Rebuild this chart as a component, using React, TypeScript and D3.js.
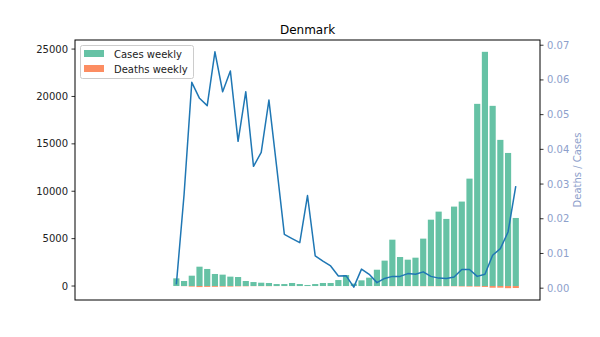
import React from "react";
import * as d3 from "d3";

const weeks: number[] = d3.range(55);
const casesWeekly: number[] = [
  0, 0, 0, 0, 0, 0, 0, 0, 0, 0,
  810, 530, 1090, 2040, 1800, 1270, 1200, 990, 950, 530,
  420, 350, 320, 210, 210, 320, 210, 110, 210, 320,
  320, 630, 1160, 250, 600, 880, 1720, 2680, 4890, 3060,
  2780, 2990, 5000, 7000, 7850, 7080, 8380, 8910, 11330, 19220,
  24710, 19010, 15420, 14040, 7180,
];
const deathsWeekly: number[] = [
  0, 0, 0, 0, 0, 0, 0, 0, 0, 0,
  1, 14, 65, 112, 94, 86, 68, 62, 40, 30,
  15, 14, 17, 7, 3, 5, 3, 3, 2, 2,
  2, 2, 4, 0, 3, 4, 3, 8, 17, 10,
  12, 12, 23, 24, 23, 20, 27, 48, 61, 65,
  99, 180, 176, 228, 211,
];
const ratio: (number | null)[] = [
  null, null, null, null, null, null, null, null, null, null,
  0.0011, 0.027, 0.0593, 0.0547, 0.0526, 0.0681, 0.0566, 0.0626, 0.0423, 0.0566,
  0.0351, 0.0391, 0.0542, 0.035, 0.0155, 0.0143, 0.0131, 0.0267, 0.0093, 0.0078,
  0.0064, 0.0035, 0.0036, 0.0003, 0.0055, 0.004, 0.0016, 0.0028, 0.0034, 0.0034,
  0.0042, 0.004, 0.0047, 0.0034, 0.0029, 0.0028, 0.0032, 0.0054, 0.0054, 0.0034,
  0.004, 0.0095, 0.0114, 0.0162, 0.0294,
];
const leftTicks: number[] = [0, 5000, 10000, 15000, 20000, 25000];
const rightTicks: number[] = [0, 0.01, 0.02, 0.03, 0.04, 0.05, 0.06, 0.07];

const W = 600, H = 337;
const L = 75, R = 540, T = 40, B = 300;
const GREEN = "#66c2a5", ORANGE = "#fc8d62", LINE = "#1f77b4", AX2 = "#8da0cb";
const FONT = "DejaVu Sans, sans-serif";

export default function App() {
  const bw = 0.8;
  const xlo = -bw / 2, xhi = weeks.length - 1 + bw / 2;
  const xm = 0.05 * (xhi - xlo);
  const x = d3.scaleLinear().domain([xlo - xm, xhi + xm]).range([L, R]);

  const ymax = d3.max(casesWeekly) as number;
  const ymin = -(d3.max(deathsWeekly) as number);
  const ym = 0.05 * (ymax - ymin);
  const y = d3.scaleLinear().domain([ymin - ym, ymax + ym]).range([B, T]);

  const rvals = ratio.filter((v) => v != null) as number[];
  const rmax = d3.max(rvals) as number, rmin = Math.min(0, d3.min(rvals) as number);
  const rm = 0.05 * (rmax - rmin);
  const y2 = d3.scaleLinear().domain([rmin - rm, rmax + rm]).range([B, T]);

  const pw = x(bw) - x(0);
  const line = d3
    .line<number | null>()
    .defined((d) => d != null)
    .x((_, i) => x(weeks[i]))
    .y((d) => y2(d as number));

  return (
    <svg width={W} height={H} style={{ position: "absolute", left: 0, top: 0 }} fontFamily={FONT}>
      <rect width={W} height={H} fill="white" />
      <text x={(L + R) / 2} y={34} textAnchor="middle" fontSize={12} fill="#000">Denmark</text>
      {weeks.map((w, i) =>
        casesWeekly[i] > 0 ? (
          <rect key={"c" + i} x={x(w) - pw / 2} width={pw} y={y(casesWeekly[i])} height={y(0) - y(casesWeekly[i])} fill={GREEN} />
        ) : null
      )}
      {weeks.map((w, i) =>
        deathsWeekly[i] > 0 ? (
          <rect key={"d" + i} x={x(w) - pw / 2} width={pw} y={y(0)} height={y(-deathsWeekly[i]) - y(0)} fill={ORANGE} />
        ) : null
      )}
      <path d={line(ratio) || ""} fill="none" stroke={LINE} strokeWidth={1.5} strokeLinejoin="round" />
      <rect x={L} y={T} width={R - L} height={B - T} fill="none" stroke="#000" strokeWidth={1} />
      {leftTicks.map((t) => (
        <g key={"l" + t} transform={`translate(0,${y(t)})`}>
          <line x1={L - 3.5} x2={L} stroke="#000" strokeWidth={0.8} />
          <text x={L - 7} dy="0.35em" textAnchor="end" fontSize={10} fill="#222">{t}</text>
        </g>
      ))}
      {rightTicks.map((t) => (
        <g key={"r" + t} transform={`translate(0,${y2(t)})`}>
          <line x1={R} x2={R + 3.5} stroke="#000" strokeWidth={0.8} />
          <text x={R + 7} dy="0.35em" textAnchor="start" fontSize={10} fill={AX2}>{t.toFixed(2)}</text>
        </g>
      ))}
      <text transform={`translate(581,${(T + B) / 2}) rotate(-90)`} textAnchor="middle" fontSize={10} fill={AX2}>Deaths / Cases</text>
      <g>
        <rect x={80.5} y={45.5} width={113} height={33} rx={2} fill="white" fillOpacity={0.8} stroke="#ccc" />
        <rect x={84} y={50} width={20} height={7} fill={GREEN} />
        <rect x={84} y={65} width={20} height={7} fill={ORANGE} />
        <text x={114} y={57.5} fontSize={10} fill="#222">Cases weekly</text>
        <text x={114} y={72.5} fontSize={10} fill="#222">Deaths weekly</text>
      </g>
    </svg>
  );
}
